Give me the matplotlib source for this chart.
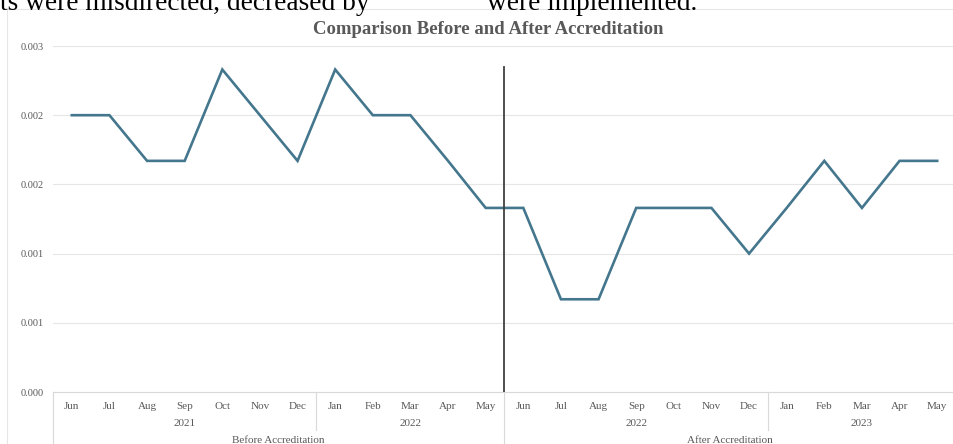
import numpy as np
import matplotlib.pyplot as plt

months = ["Jun", "Jul", "Aug", "Sep", "Oct", "Nov", "Dec", "Jan", "Feb", "Mar", "Apr", "May",
          "Jun", "Jul", "Aug", "Sep", "Oct", "Nov", "Dec", "Jan", "Feb", "Mar", "Apr", "May"]
values = [0.00200, 0.00200, 0.00167, 0.00167, 0.00233, 0.00200, 0.00167, 0.00233,
          0.00200, 0.00200, 0.00167, 0.00133, 0.00133, 0.00067, 0.00067, 0.00133,
          0.00133, 0.00133, 0.00100, 0.00133, 0.00167, 0.00133, 0.00167, 0.00167]
# (label, first index, last index)
years = [("2021", 0, 6), ("2022", 7, 11), ("2022", 12, 18), ("2023", 19, 23)]
periods = [("Before Accreditation", 0, 11), ("After Accreditation", 12, 23)]
yticks = [0.0, 0.0005, 0.0010, 0.0015, 0.0020, 0.0025]
ytick_labels = ["0.000", "0.001", "0.001", "0.002", "0.002", "0.003"]
split_x = 11.5
split_top = 0.00235

serif = ["Liberation Serif", "DejaVu Serif"]
grey = "#595959"

fig = plt.figure(figsize=(9.54, 4.44), dpi=100)
W, H = 954, 444
left, right, top, bottom = 53, 956, 46, 392
ax = fig.add_axes([left / W, 1 - bottom / H, (right - left) / W, (bottom - top) / H])

x = np.arange(len(values))
ax.plot(x, values, color="#44778d", lw=1.9, solid_joinstyle="miter", zorder=3)
ax.plot([split_x, split_x], [0, split_top], color="#404040", lw=1.3, zorder=4)

ax.set_xlim(-0.5, len(values) - 0.5)
ax.set_ylim(0, 0.0025)
ax.set_yticks(yticks)
ax.set_yticklabels(ytick_labels, fontfamily=serif, fontsize=7.5, color=grey)
ax.set_xticks(x)
ax.set_xticklabels([])
ax.tick_params(axis="both", length=0)
ax.tick_params(axis="y", pad=7)
ax.grid(axis="y", color="#e6e6e6", lw=0.8)
ax.set_axisbelow(True)
for s in ["top", "right", "left"]:
    ax.spines[s].set_visible(False)
ax.spines["bottom"].set_color("#d9d9d9")
ax.spines["bottom"].set_linewidth(0.8)

tr = ax.get_xaxis_transform()
for i, m in enumerate(months):
    ax.annotate(m, (i, 0), xycoords=tr, xytext=(0, -14), textcoords="offset pixels",
                ha="center", va="center", fontfamily=serif, fontsize=8, color=grey)
for lab, a, b in years:
    ax.annotate(lab, ((a + b) / 2, 0), xycoords=tr, xytext=(0, -31), textcoords="offset pixels",
                ha="center", va="center", fontfamily=serif, fontsize=8, color=grey)
for lab, a, b in periods:
    ax.annotate(lab, ((a + b) / 2, 0), xycoords=tr, xytext=(0, -48), textcoords="offset pixels",
                ha="center", va="center", fontfamily=serif, fontsize=8, color=grey)

# category group separators below the axis
for xs, depth in [(-0.5, 60), (6.5, 38), (11.5, 60), (18.5, 38)]:
    ax.plot([xs, xs], [0, -depth / (bottom - top)], transform=tr, color="#d9d9d9",
            lw=0.8, clip_on=False)

ax.set_title("Comparison Before and After Accreditation", fontfamily=serif, fontsize=13.5,
             fontweight="bold", color=grey, x=(488 - left) / (right - left), pad=8.5)

# chart frame and page text above it
fig.add_artist(plt.Line2D([7 / W, 7 / W], [0, 1 - 9 / H], color="#e6e6e6", lw=0.8))
fig.add_artist(plt.Line2D([7 / W, 1], [1 - 9 / H, 1 - 9 / H], color="#e6e6e6", lw=0.8))
fig.text(0 / W, 1 - 10 / H, "ts were misdirected, decreased by", fontfamily=serif,
         fontsize=19.7, va="baseline", ha="left", color="black")
fig.text(487 / W, 1 - 10 / H, "were implemented.", fontfamily=serif,
         fontsize=19.7, va="baseline", ha="left", color="black")

fig.savefig("out.png", dpi=100)
